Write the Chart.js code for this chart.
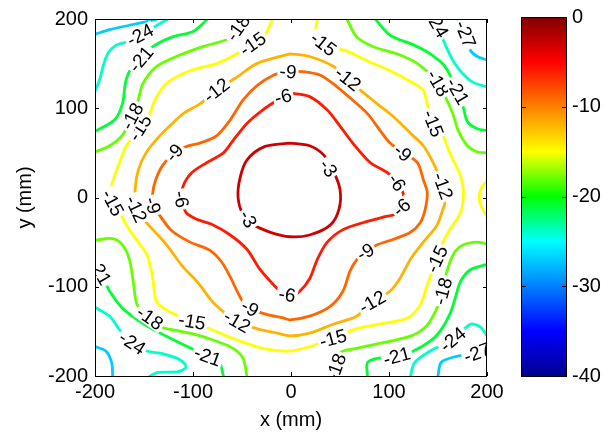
<!DOCTYPE html>
<html>
<head>
<meta charset="utf-8">
<script src="https://cdn.jsdelivr.net/npm/chart.js@4.4.1/dist/chart.umd.min.js"></script>
<style>
  html, body { margin: 0; padding: 0; background: #fff; }
  #wrap { position: relative; width: 610px; height: 436px; }
  #main { position: absolute; left: 0; top: 0; }
  #bar { position: absolute; left: 505px; top: 0; }
</style>
</head>
<body>
<div id="wrap">
  <canvas id="main" width="520" height="436"></canvas>
  <canvas id="bar" width="105" height="436"></canvas>
</div>
<script>
// contour levels (dB) and the colour range of the bar
const levels = [-3, -6, -9, -12, -15, -18, -21, -24, -27];
const cbMin = -40, cbMax = 0;
const axisTicks = [-200, -100, 0, 100, 200];
const cbTicks = [0, -10, -20, -30, -40];

// contour pieces, [x, y] in mm
const c3 = [[-1,61],[19,58],[33,48],[43,30],[50,9],[49,-13],[40,-31],[19,-42],[-1,-44],[-21,-39],[-39,-30],[-49,-19],[-54,0],[-52,22],[-45,42],[-27,57],[-1,61]];
const c6 = [[-1,117],[19,113],[37,98],[50,80],[63,61],[81,39],[98,28],[109,17],[115,0],[109,-17],[94,-22],[74,-28],[53,-36],[37,-50],[27,-69],[19,-91],[9,-105],[-1,-111],[-11,-105],[-21,-94],[-32,-80],[-45,-58],[-62,-42],[-81,-30],[-97,-24],[-107,-17],[-111,-2],[-110,13],[-101,28],[-86,39],[-69,50],[-59,64],[-45,83],[-29,98],[-14,109],[-1,117]];
const c9 = [[-3,141],[12,141],[30,137],[47,124],[63,109],[78,94],[91,75],[101,61],[115,50],[129,39],[135,20],[139,6],[137,-13],[132,-28],[122,-39],[104,-47],[88,-53],[76,-61],[67,-70],[60,-83],[53,-105],[40,-122],[19,-133],[-1,-137],[-8,-135],[-25,-131],[-42,-124],[-49,-117],[-55,-105],[-62,-89],[-71,-72],[-83,-59],[-103,-50],[-122,-37],[-134,-20],[-141,-9],[-141,6],[-138,20],[-131,36],[-119,50],[-107,57],[-93,61],[-76,69],[-62,87],[-49,109],[-35,125],[-18,137],[-3,141]];
const c12 = [[-1,161],[19,158],[43,147],[58,133],[71,120],[88,105],[104,91],[122,72],[135,58],[145,39],[155,13],[157,-6],[155,-13],[149,-31],[135,-50],[122,-69],[111,-91],[101,-105],[83,-117],[67,-133],[43,-142],[19,-152],[-1,-155],[-14,-152],[-35,-147],[-55,-139],[-69,-128],[-80,-117],[-96,-94],[-110,-78],[-127,-53],[-141,-36],[-151,-24],[-158,-13],[-159,9],[-156,30],[-148,50],[-134,69],[-121,83],[-110,94],[-93,105],[-76,120],[-55,135],[-35,150],[-8,159],[-1,161]];
const c15 = [[-19,200],[-25,185],[-39,172],[-55,161],[-76,150],[-103,142],[-127,128],[-139,109],[-144,94],[-154,78],[-168,58],[-174,42],[-180,24],[-184,9],[-182,-6],[-174,-19],[-165,-36],[-154,-53],[-147,-64],[-143,-80],[-141,-91],[-137,-117],[-124,-128],[-101,-139],[-83,-147],[-59,-158],[-29,-169],[-1,-172],[19,-167],[43,-158],[67,-147],[94,-141],[119,-135],[132,-120],[139,-98],[149,-69],[155,-50],[162,-36],[173,-17],[176,6],[173,24],[162,50],[155,69],[145,83],[139,105],[135,120],[125,128],[101,142],[78,153],[57,164],[33,172],[25,183],[27,200]];
const c15r = [[200,19],[194,10],[192,-1],[195,-12],[200,-21]];
const c18tl = [[-46,200],[-54,190],[-64,178],[-90,169],[-117,158],[-137,147],[-151,128],[-156,109],[-162,91],[-172,70],[-185,58],[-200,51]];
const c18tr = [[57,200],[67,180],[84,169],[108,161],[129,150],[150,128],[159,109],[165,94],[171,74],[180,58],[190,51],[200,50]];
const c18bl = [[-200,-48],[-182,-46],[-172,-53],[-165,-69],[-161,-94],[-157,-120],[-144,-135],[-132,-145],[-117,-149],[-96,-154],[-76,-161],[-59,-169],[-49,-180],[-45,-200]];
const c18br = [[47,-200],[46,-188],[50,-174],[67,-169],[101,-161],[125,-154],[139,-143],[149,-124],[155,-105],[159,-83],[166,-63],[176,-53],[190,-50],[200,-52]];
const c21tl = [[-85,200],[-100,186],[-121,180],[-141,169],[-154,155],[-165,141],[-169,128],[-172,105],[-180,87],[-200,74]];
const c21tr = [[86,200],[101,182],[125,171],[142,161],[157,147],[170,119],[176,100],[180,85],[190,77],[200,75]];
const c21bl = [[-200,-74],[-191,-92],[-185,-105],[-172,-124],[-154,-139],[-137,-150],[-117,-161],[-98,-171],[-85,-178],[-73,-185],[-69,-200]];
const c21br = [[78,-200],[78,-185],[89,-180],[108,-178],[125,-172],[142,-161],[152,-150],[162,-131],[168,-111],[173,-94],[183,-81],[200,-75]];
const c24tl = [[-200,119],[-195,133],[-191,150],[-186,163],[-178,171],[-169,174],[-154,182],[-138,192],[-126,200]];
const c24tr = [[146,200],[149,194],[153,183],[159,167],[166,152],[175,139],[186,129],[200,124]];
const c24bl = [[-200,-123],[-185,-133],[-175,-148],[-162,-163],[-147,-172],[-131,-175],[-113,-182],[-107,-190],[-115,-195],[-136,-196],[-144,-200]];
const c24br = [[122,-200],[126,-185],[142,-172],[165,-159],[183,-142],[193,-145],[200,-155]];
const c27tl = [[-200,183],[-185,188],[-165,193],[-144,198],[-136,200]];
const c27tr = [[170,200],[178,183],[183,165],[190,158],[200,154]];
const c27bl = [[-200,-167],[-189,-172],[-183,-185],[-182,-200]];
const c27br = [[150,-200],[153,-185],[165,-179],[190,-174],[200,-174]];

// [text, x, y, angle in degrees]
const contourLabels = [
  ['-3', 38, 33, 55], ['-3', -44, -24, 62],
  ['-6', -8, 113, -15], ['-6', -112, -2, 80], ['-6', -4, -109, 10], ['-6', 108, 17, 55], ['-6', 113, -11, -40],
  ['-9', -3, 141, 5], ['-9', -119, 50, -50], ['-9', -141, -9, 75], ['-9', -42, -124, 30], ['-9', 76, -61, -30], ['-9', 114, 50, 40],
  ['-12', 58, 133, 38], ['-12', -76, 120, -38], ['-12', -158, -13, 65], ['-12', -55, -139, 30], ['-12', 83, -117, -30], ['-12', 155, 13, 70],
  ['-15', -39, 172, -35], ['-15', 33, 172, 38], ['-15', -154, 78, -58], ['-15', -182, -6, 62], ['-15', -101, -139, 10], ['-15', 43, -158, -15], ['-15', 149, -69, -65], ['-15', 145, 83, 68],
  ['-18', -54, 190, -55], ['-18', -162, 91, -62], ['-18', 150, 128, 60], ['-18', -144, -135, 35], ['-18', 155, -105, -75], ['-18', 46, -190, -70],
  ['-21', -153, 155, -50], ['-21', 170, 119, 60], ['-21', -85, -178, 20], ['-21', 108, -178, -15], ['-21', -195, -83, 60],
  ['-24', -154, 182, -28], ['-24', 149, 194, 60], ['-24', -162, -163, 33], ['-24', 165, -159, -40],
  ['-27', 178, 183, 68], ['-27', 190, -174, -20]
];

const pieces = [
  [-3, c3], [-6, c6], [-9, c9], [-12, c12], [-15, c15], [-15, c15r],
  [-18, c18tl], [-18, c18tr], [-18, c18bl], [-18, c18br],
  [-21, c21tl], [-21, c21tr], [-21, c21bl], [-21, c21br],
  [-24, c24tl], [-24, c24tr], [-24, c24bl], [-24, c24br],
  [-27, c27tl], [-27, c27tr], [-27, c27bl], [-27, c27br]
];

// jet-like colour map, 0 = cbMin, 1 = cbMax
const cmapStops = [
  [0, [0, 0, 143]], [0.125, [0, 0, 255]], [0.375, [0, 255, 255]], [0.5, [0, 255, 0]],
  [0.625, [255, 255, 0]], [0.75, [255, 128, 0]], [0.875, [255, 0, 0]], [1, [128, 0, 0]]
];

function cmap(v) {
  const t = (v - cbMin) / (cbMax - cbMin);
  for (let i = 1; i < cmapStops.length; i++) {
    const [t1, c1] = cmapStops[i];
    const [t0, c0] = cmapStops[i - 1];
    if (t <= t1) {
      const f = (t - t0) / (t1 - t0);
      const c = c0.map((a, k) => Math.round(a + (c1[k] - a) * f));
      return `rgb(${c.join(',')})`;
    }
  }
  return 'rgb(128,0,0)';
}

const FONT = '"Liberation Sans", Arial, Helvetica, sans-serif';
Chart.defaults.font.family = FONT;
Chart.defaults.font.size = 20;
Chart.defaults.color = '#000';

const boxPlugin = {
  id: 'box',
  afterDatasetsDraw(chart) {
    const { ctx, chartArea: a, scales } = chart;
    ctx.save();
    ctx.beginPath();
    ctx.rect(a.left, a.top, a.right - a.left, a.bottom - a.top);
    ctx.clip();
    ctx.font = '19px ' + FONT;
    ctx.textAlign = 'center';
    ctx.textBaseline = 'middle';
    contourLabels.forEach(([t, x, y, ang]) => {
      const px = scales.x.getPixelForValue(x);
      const py = scales.y.getPixelForValue(y);
      ctx.save();
      ctx.translate(px, py);
      ctx.rotate(ang * Math.PI / 180);
      const w = ctx.measureText(t).width;
      ctx.fillStyle = '#fff';
      ctx.fillRect(-w / 2 - 2, -8, w + 4, 16);
      ctx.fillStyle = '#000';
      ctx.fillText(t, 0, 1);
      ctx.restore();
    });
    ctx.restore();
  },
  afterDraw(chart) {
    const { ctx, chartArea: a, scales } = chart;
    ctx.save();
    ctx.strokeStyle = '#000';
    ctx.lineWidth = 1;
    ctx.strokeRect(a.left + 0.5, a.top + 0.5, a.right - a.left - 1, a.bottom - a.top);
    ctx.beginPath();
    axisTicks.forEach(v => {
      const px = Math.round(scales.x.getPixelForValue(v)) + 0.5;
      ctx.moveTo(px, a.bottom); ctx.lineTo(px, a.bottom - 4);
      ctx.moveTo(px, a.top); ctx.lineTo(px, a.top + 4);
      const py = Math.round(scales.y.getPixelForValue(v)) + 0.5;
      ctx.moveTo(a.left, py); ctx.lineTo(a.left + 4, py);
      ctx.moveTo(a.right, py); ctx.lineTo(a.right - 4, py);
    });
    ctx.stroke();
    ctx.restore();
  }
};

new Chart(document.getElementById('main'), {
  type: 'scatter',
  data: {
    datasets: pieces.map(([lvl, pts]) => ({
      data: pts.map(([x, y]) => ({ x, y })),
      showLine: true,
      borderColor: cmap(lvl),
      borderWidth: 2.8,
      pointRadius: 0,
      tension: 0.3,
      borderJoinStyle: 'round',
      borderCapStyle: 'round'
    }))
  },
  options: {
    responsive: false,
    animation: false,
    layout: { padding: { top: 15, right: 33, left: 0, bottom: 0 } },
    plugins: { legend: { display: false }, tooltip: { enabled: false } },
    scales: {
      x: {
        type: 'linear', min: -200, max: 200,
        ticks: { stepSize: 100, padding: 4, maxRotation: 0 },
        grid: { display: false, drawTicks: false },
        border: { display: false },
        title: { display: true, text: 'x (mm)', padding: { top: 0, bottom: 4 } },
        afterFit(s) { s.height = 60; }
      },
      y: {
        type: 'linear', min: -200, max: 200,
        ticks: { stepSize: 100, padding: 7 },
        grid: { display: false, drawTicks: false },
        border: { display: false },
        title: { display: true, text: 'y (mm)', padding: { top: 13, bottom: 0 } },
        afterFit(s) { s.width = 95; }
      }
    }
  },
  plugins: [boxPlugin]
});

const cbFrame = {
  id: 'cbFrame',
  afterDraw(chart) {
    const { ctx, chartArea: a, scales } = chart;
    ctx.save();
    ctx.strokeStyle = '#000';
    ctx.lineWidth = 1;
    ctx.strokeRect(a.left + 0.5, a.top + 0.5, a.right - a.left - 1, a.bottom - a.top);
    ctx.beginPath();
    cbTicks.forEach(v => {
      const py = Math.round(scales.y.getPixelForValue(v)) + 0.5;
      ctx.moveTo(a.left, py); ctx.lineTo(a.left + 5, py);
      ctx.moveTo(a.right, py); ctx.lineTo(a.right - 5, py);
    });
    ctx.stroke();
    ctx.restore();
  }
};

new Chart(document.getElementById('bar'), {
  type: 'bar',
  data: {
    labels: [''],
    datasets: [{
      data: [[cbMin, cbMax]],
      borderWidth: 0,
      barPercentage: 1,
      categoryPercentage: 1,
      backgroundColor(c) {
        const ca = c.chart.chartArea;
        if (!ca) return '#888';
        const g = c.chart.ctx.createLinearGradient(0, ca.bottom, 0, ca.top);
        cmapStops.forEach(([t, rgb]) => g.addColorStop(t, `rgb(${rgb.join(',')})`));
        return g;
      }
    }]
  },
  options: {
    responsive: false,
    animation: false,
    layout: { padding: { top: 15, right: 0, left: 16, bottom: 60 } },
    plugins: { legend: { display: false }, tooltip: { enabled: false } },
    scales: {
      x: { display: false },
      y: {
        position: 'right', min: cbMin, max: cbMax,
        ticks: { stepSize: 10, padding: 5 },
        grid: { display: false, drawTicks: false },
        border: { display: false },
        afterFit(s) { s.width = 43; }
      }
    }
  },
  plugins: [cbFrame]
});
</script>
</body>
</html>
